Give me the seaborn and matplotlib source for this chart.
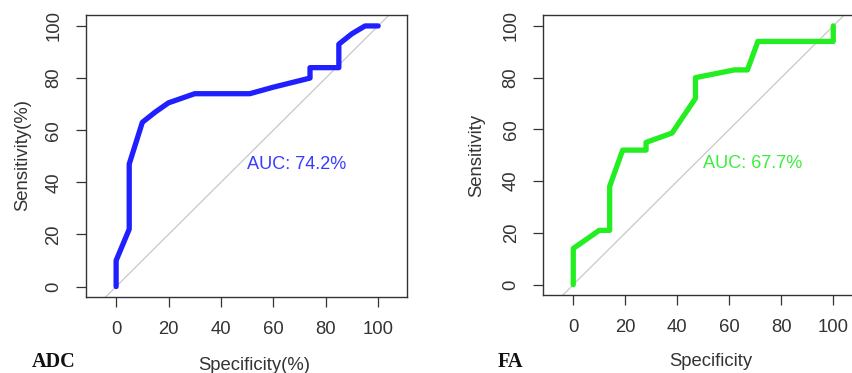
import numpy as np
import pandas as pd
import matplotlib
matplotlib.use('Agg')
import matplotlib.pyplot as plt
import seaborn as sns

# ROC curve points (specificity %, sensitivity %)
adc_spec = [0, 0, 5, 5, 10, 15, 20, 30, 51, 60, 74, 74, 85, 85, 90, 95, 100]
adc_sens = [0, 10, 22, 47, 63, 67, 70.5, 74, 74, 76.5, 80, 84, 84, 93, 97, 100, 100]

fa_spec = [0, 0, 10, 14, 14, 19, 28, 28, 38, 47, 47, 62, 67, 71, 100, 100]
fa_sens = [0, 14, 21, 21, 38, 52, 52, 55, 58.6, 72, 80, 83, 83, 94, 94, 100]

ticks = [0, 20, 40, 60, 80, 100]

sns.set_style("ticks")
plt.rcParams['font.family'] = ['Liberation Sans', 'DejaVu Sans']

fig = plt.figure(figsize=(8.53, 3.73), dpi=100)
ax1 = fig.add_axes([0.1008, 0.2038, 0.3763, 0.756])
ax2 = fig.add_axes([0.6370, 0.2090, 0.3734, 0.7507])

panels = [
    (ax1, adc_spec, adc_sens, '#1f1fff', '#3a3aff', 'AUC: 74.2%'),
    (ax2, fa_spec, fa_sens, '#22ee22', '#3cee3c', 'AUC: 67.7%'),
]

for ax, spec, sens, col, tcol, auc in panels:
    df = pd.DataFrame({'spec': spec, 'sens': sens})
    ax.plot([-20, 120], [-20, 120], color='#c8c8c8', lw=0.9, zorder=1)
    sns.lineplot(data=df, x='spec', y='sens', sort=False, estimator=None,
                 color=col, lw=3.8, ax=ax, zorder=3)
    ax.set_xlim(-11.5, 111)
    ax.set_ylim(-4, 104.2)
    ax.set_xticks(ticks)
    ax.set_yticks(ticks)
    ax.tick_params(axis='both', length=7, width=0.9, color='#333333',
                   labelsize=13.3, labelcolor='#333333', pad=10)
    for lab in ax.get_yticklabels():
        lab.set_rotation(90)
        lab.set_va('center')
    for s in ax.spines.values():
        s.set_color('#333333')
        s.set_linewidth(1.0)
    ax.set_xlabel('')
    ax.set_ylabel('')
    ax.text(69, 46.7, auc, color=tcol, fontsize=13.1, ha='center', va='center')

fig.text(254 / 853, 1 - 365 / 373, 'Specificity(%)', ha='center', va='center', fontsize=13.3, color='#333333')
fig.text(23 / 853, 1 - 155 / 373, 'Sensitivity(%)', ha='center', va='center', fontsize=13.3, color='#333333', rotation=90)
fig.text(711 / 853, 1 - 362 / 373, 'Specificity', ha='center', va='center', fontsize=13.3, color='#333333')
fig.text(477 / 853, 1 - 155 / 373, 'Sensitivity', ha='center', va='center', fontsize=13.3, color='#333333', rotation=90)
fig.text(54 / 853, 1 - 362 / 373, 'ADC', ha='center', va='center', fontsize=14.6,
         fontweight='bold', family=['Liberation Serif', 'DejaVu Serif'], color='#111111')
fig.text(510 / 853, 1 - 362 / 373, 'FA', ha='center', va='center', fontsize=14.6,
         fontweight='bold', family=['Liberation Serif', 'DejaVu Serif'], color='#111111')

fig.savefig('out.png', dpi=100)
